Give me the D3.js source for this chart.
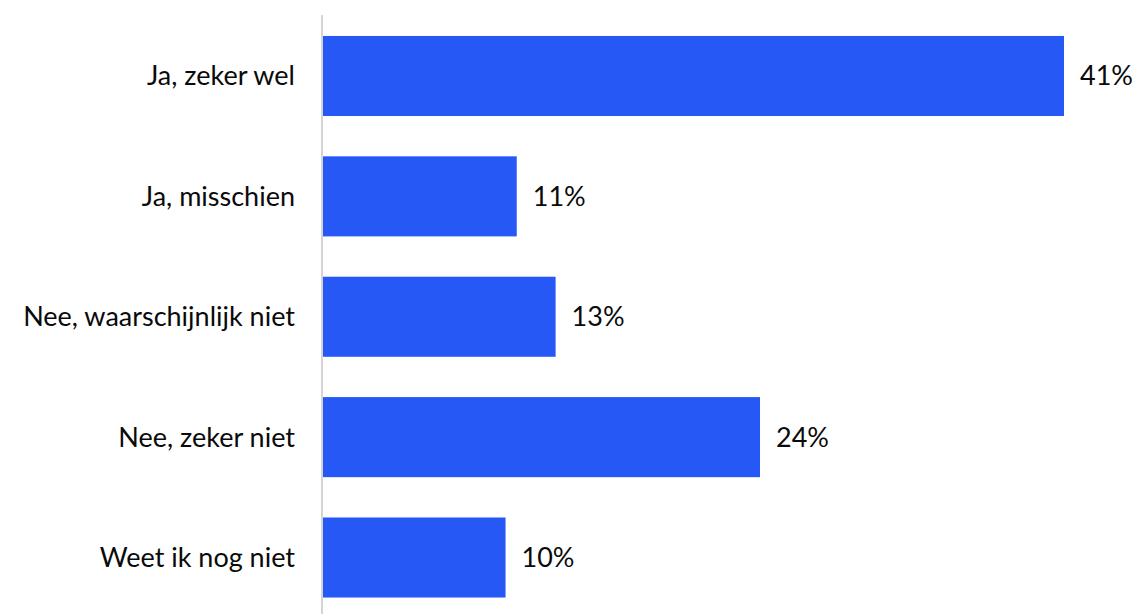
<!DOCTYPE html>
<html>
<head>
<meta charset="utf-8">
<script src="https://cdn.jsdelivr.net/npm/d3@7"></script>
<style>
  body { margin: 0; background: #fff; }
  text { font-family: Lato, "Open Sans", sans-serif; fill: #0a0a0a; }
</style>
</head>
<body>
<svg id="chart" width="1135" height="614"></svg>
<script>
var categories = ["Ja, zeker wel", "Ja, misschien", "Nee, waarschijnlijk niet", "Nee, zeker niet", "Weet ik nog niet"];
// bar lengths (labels are rounded)
var values = [41, 10.72, 12.87, 24.18, 10.1];
var valueLabels = ["41%", "11%", "13%", "24%", "10%"];

var svg = d3.select("#chart");
var left = 323;

var x = d3.scaleLinear()
  .domain([0, 41])
  .range([left, 1064]);

var y = d3.scaleBand()
  .domain(categories)
  .range([15.5, 618])
  .paddingInner(0.335)
  .paddingOuter(0.17);

// axis line
svg.append("line")
  .attr("x1", 322).attr("x2", 322)
  .attr("y1", 15).attr("y2", 614)
  .attr("stroke", "#d4d4d4")
  .attr("stroke-width", 2);

svg.selectAll("rect.bar")
  .data(values)
  .join("rect")
  .attr("class", "bar")
  .attr("x", x(0))
  .attr("y", (d, i) => y(categories[i]))
  .attr("width", d => x(d) - x(0))
  .attr("height", y.bandwidth())
  .attr("fill", "#2558f5");

// category labels
svg.selectAll("text.cat")
  .data(categories)
  .join("text")
  .attr("class", "cat")
  .attr("x", 295)
  .attr("y", d => y(d) + y.bandwidth() / 2)
  .attr("dy", "0.35em")
  .attr("text-anchor", "end")
  .attr("font-size", "27px")
  .text(d => d);

// value labels
svg.selectAll("text.val")
  .data(values)
  .join("text")
  .attr("class", "val")
  .attr("x", d => x(d) + 16)
  .attr("y", (d, i) => y(categories[i]) + y.bandwidth() / 2)
  .attr("dy", "0.35em")
  .attr("font-size", "27px")
  .text((d, i) => valueLabels[i]);
</script>
</body>
</html>
